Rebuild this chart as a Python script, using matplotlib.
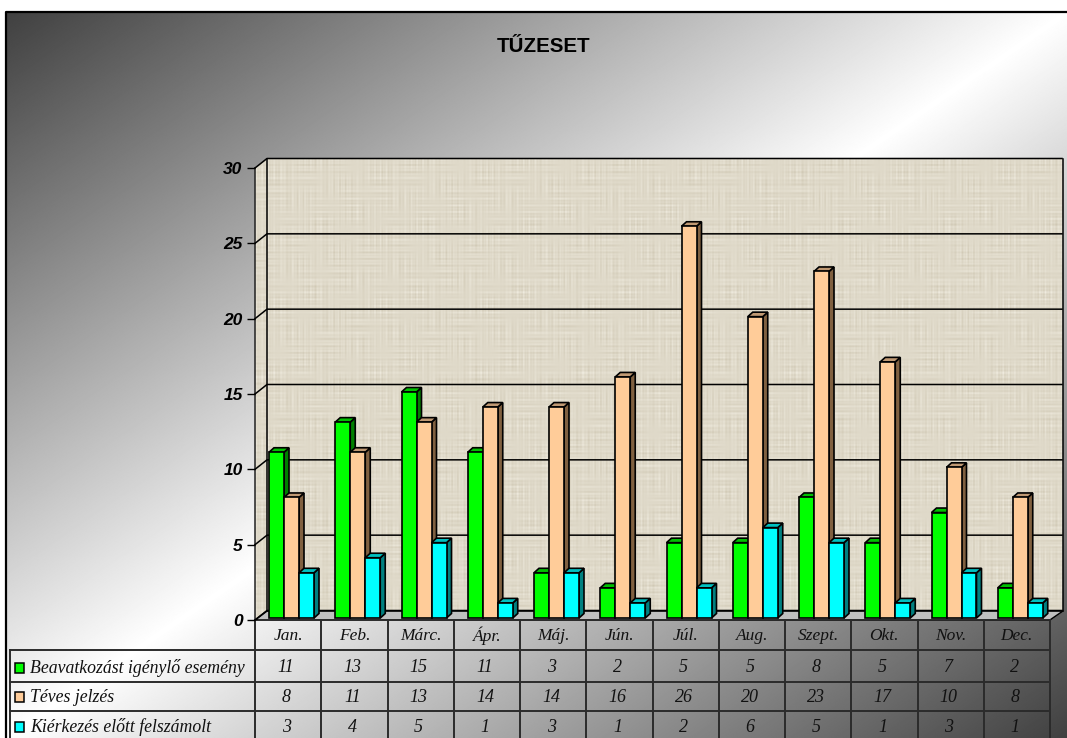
import matplotlib
matplotlib.use("Agg")
import matplotlib.pyplot as plt
import numpy as np

months=["Jan.","Feb.","Márc.","Ápr.","Máj.","Jún.","Júl.","Aug.","Szept.","Okt.","Nov.","Dec."]
beavatkozas=[11,13,15,11,3,2,5,5,8,5,7,2]
teves=[8,11,13,14,14,16,26,20,23,17,10,8]
kierkezes=[3,4,5,1,3,1,2,6,5,1,3,1]
series_names=["Beavatkozást igénylő esemény","Téves jelzés","Kiérkezés előtt felszámolt"]
yticks=[0,5,10,15,20,25,30]

W,H=1067,738
FRONT="#00ff00","#ffcc99","#00ffff"
SIDE="#008000","#806040","#008080"
TOP="#00c000","#c09973","#00c0c0"
LINE="#2b2b2b"

fig=plt.figure(figsize=(W/100,H/100),dpi=100,facecolor="white")

# pixel layer: gradient, walls, floor, table
bg=fig.add_axes([0,0,1,1]); bg.set_xlim(0,W); bg.set_ylim(H,0); bg.axis("off")
yy,xx=np.mgrid[0:H,0:W]
t=(xx/W+yy/H)/2
grad=0x40+(0xff-0x40)*(1-np.abs(t-0.5)*2)
frame_x,frame_y=6,12
bg.imshow(grad,cmap="gray",vmin=0,vmax=255,extent=(frame_x,W,H,frame_y),aspect="auto",zorder=0)
bg.plot([frame_x,frame_x,W],[H,frame_y,frame_y],color="black",lw=1.6,zorder=1)

def linen(h,w):
    # woven look: irregular threads in both directions, patched by slow waves
    yy,xx=np.mgrid[0:h,0:w]
    vert=np.sin(xx*1.37+2*np.sin(xx*0.17))*np.sin(xx*0.53+1)
    horz=np.sin(yy*1.21+2*np.sin(yy*0.13))*np.sin(yy*0.47+2)
    p1=0.5+0.5*np.sin(xx*0.09+yy*0.05)*np.sin(yy*0.14-xx*0.03)
    p2=0.5+0.5*np.sin(yy*0.08-xx*0.06)*np.sin(xx*0.12+yy*0.02)
    v=0.62+0.2*vert*p1+0.2*horz*p2
    v=np.clip(v,0,1)[...,None]
    dark=np.array([196,187,164])/255
    light=np.array([240,236,224])/255
    return dark+(light-dark)*v

bx0,bx1,by0,by1=267,1063,159,611
fx0,fx1,fy=255,1050,620
bg.imshow(linen(by1-by0,bx1-bx0),extent=(bx0,bx1,by1,by0),aspect="auto",zorder=2,interpolation="bilinear")
im=bg.imshow(linen(by1-by0,bx0-fx0),extent=(fx0,bx0,fy,by0),aspect="auto",zorder=2,interpolation="bilinear")
clip=plt.Polygon([(fx0,fy),(fx0,168),(bx0,by0),(bx0,by1)],transform=bg.transData,fc="none",ec="none")
bg.add_patch(clip); im.set_clip_path(clip)
bg.set_xlim(0,W); bg.set_ylim(H,0)
bg.fill([fx0,bx0,bx1,fx1],[fy,by1,by1,fy],color="#c0c0c0",zorder=3)
bg.plot([fx0,bx0,bx1,fx1,fx0],[fy,by1,by1,fy,fy],color="black",lw=1.1,zorder=4)
bg.plot([fx0,fx0],[fy,168],color="#222222",lw=1.1,zorder=4)
bg.plot([bx0,bx0],[by1,by0],color="black",lw=1.1,zorder=4)
bg.plot([bx1,bx1],[by1,by0],color="black",lw=1.1,zorder=4)

# value layer: front plane of the chart
ax=fig.add_axes([fx0/W,1-fy/H,(fx1-fx0)/W,(fy-168)/H])
ax.patch.set_alpha(0)
ax.set_xlim(0,12); ax.set_ylim(0,30)
for s in ax.spines.values(): s.set_visible(False)
ax.set_xticks([])
ax.set_yticks(yticks)
ax.set_yticklabels(yticks,fontfamily="Liberation Sans",fontsize=12.5,fontweight="bold",fontstyle="italic")
ax.tick_params(axis="y",length=6,width=1.0,pad=3,color="black")

px=12/(fx1-fx0); py=30/(fy-168)
wall_dx,wall_dy=12*px,9.5*py
for v in yticks:
    ax.plot([0,wall_dx,12+wall_dx],[v,v+wall_dy,v+wall_dy],color="black",lw=1.1,clip_on=False,zorder=2)

bw=15*px; dx=5*px; dy=4.5*py; base=2*py
x=np.arange(12)+14*px
for k,vals in enumerate([beavatkozas,teves,kierkezes]):
    xs=x+k*bw
    for xi,v in zip(xs,vals):
        ax.fill([xi+bw,xi+bw+dx,xi+bw+dx,xi+bw],[base,base+dy,v+base+dy,v+base],fc=SIDE[k],ec="black",lw=1.2,clip_on=False,zorder=3+k)
        ax.fill([xi,xi+dx,xi+bw+dx,xi+bw],[v+base,v+base+dy,v+base+dy,v+base],fc=TOP[k],ec="black",lw=1.2,clip_on=False,zorder=3+k)
    ax.bar(xs,vals,bw,bottom=base,align="edge",color=FRONT[k],edgecolor="black",lw=1.2,clip_on=False,zorder=3+k)

# table
rows=[620,650,682,711,H]
cell=(fx1-fx0)/12
for r in rows[1:-1]:
    bg.plot([10,fx1-2],[r,r],color=LINE,lw=1.4,zorder=5)
bg.plot([10,10],[650,H],color=LINE,lw=1.4,zorder=5)
for i in range(13):
    bg.plot([fx0+i*cell]*2,[fy,H],color=LINE,lw=1.4,zorder=5)
serif=dict(fontfamily="Liberation Serif",fontstyle="italic",color="#111111",zorder=6)
for i,m in enumerate(months):
    bg.text(fx0+(i+0.5)*cell,636,m,ha="center",va="center",fontsize=12.5,**serif)
row_mid=[668,697,727]
for r,(name,vals) in enumerate(zip(series_names,[beavatkozas,teves,kierkezes])):
    bg.add_patch(plt.Rectangle((14.5,row_mid[r]-5),9.5,10,fc=FRONT[r],ec="black",lw=1.1,zorder=6))
    bg.text(30,row_mid[r],name,ha="left",va="center",fontsize=12.8,**serif)
    for i,v in enumerate(vals):
        bg.text(fx0+(i+0.5)*cell-2,row_mid[r],str(v),ha="center",va="center",fontsize=13,**serif)

fig.text(544/W,1-46/H,"TŰZESET",ha="center",va="center",fontfamily="Liberation Sans",fontsize=14.8,fontweight="bold")
fig.savefig("out.png",dpi=100,facecolor="white")
